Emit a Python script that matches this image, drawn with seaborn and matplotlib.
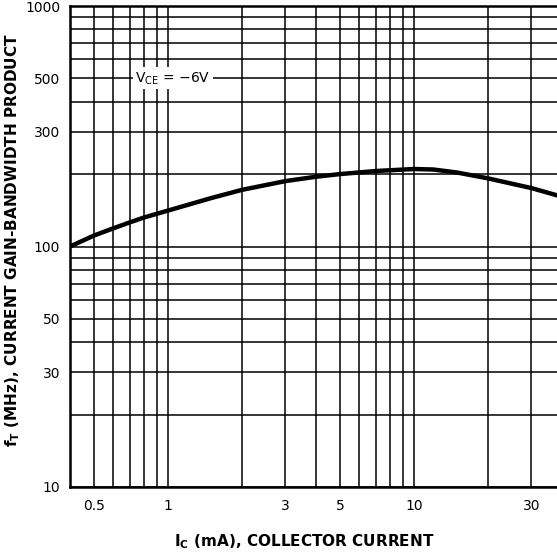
import numpy as np
import matplotlib
matplotlib.use("Agg")
import matplotlib.pyplot as plt
import matplotlib.ticker as mticker
import seaborn as sns

# curve
ic_ma = [0.4, 0.5, 0.6, 0.7, 0.8, 1, 1.5, 2, 3, 4, 5, 7, 10, 12, 15, 20, 30, 40]
ft_mhz = [100, 111, 119, 126, 132, 141, 159, 172, 187, 195, 200, 206, 210, 209, 203, 192, 175, 161]

x_ticks = [0.5, 1, 3, 5, 10, 30]
x_labels = ["0.5", "1", "3", "5", "10", "30"]
y_ticks = [10, 30, 50, 100, 300, 500, 1000]
y_labels = ["10", "30", "50", "100", "300", "500", "1000"]

sns.set_style("white")
plt.rcParams['font.family'] = ['DejaVu Sans']
plt.rcParams['text.color'] = 'black'
plt.rcParams['axes.labelcolor'] = 'black'

fig = plt.figure(figsize=(5.57, 5.57), dpi=100)
ax = fig.add_axes([70 / 557, 1 - 487 / 557, 492 / 557, 481 / 557])
ax.set_xscale('log')
ax.set_yscale('log')

sns.lineplot(x=ic_ma, y=ft_mhz, color='black', linewidth=3.2, ax=ax, zorder=5)

ax.set_xlim(0.4, 40)
ax.set_ylim(10, 1000)

ax.xaxis.set_major_locator(mticker.FixedLocator(x_ticks))
ax.xaxis.set_major_formatter(mticker.FixedFormatter(x_labels))
ax.yaxis.set_major_locator(mticker.FixedLocator(y_ticks))
ax.yaxis.set_major_formatter(mticker.FixedFormatter(y_labels))
ax.xaxis.set_minor_locator(mticker.LogLocator(base=10, subs=np.arange(1, 10)))
ax.yaxis.set_minor_locator(mticker.LogLocator(base=10, subs=np.arange(1, 10)))
ax.xaxis.set_minor_formatter(mticker.NullFormatter())
ax.yaxis.set_minor_formatter(mticker.NullFormatter())
ax.tick_params(which='both', length=0, labelsize=10, colors='black')
ax.tick_params(axis='x', pad=9)
ax.tick_params(axis='y', pad=7)

ax.grid(True, which='both', color='black', linewidth=1.1)
for side in ['left', 'bottom', 'top']:
    ax.spines[side].set_color('black')
    ax.spines[side].set_linewidth(1.8)
ax.spines['right'].set_visible(False)

ax.text(1.05, 500, r'V$_{\mathregular{CE}}$ = −6V', ha='center', va='center', fontsize=10,
        color='black', bbox=dict(facecolor='white', edgecolor='none', pad=2), zorder=6)

ax.set_xlabel(r'I$_{\mathregular{C}}$ (mA), COLLECTOR CURRENT', fontsize=11, fontweight='bold')
ax.xaxis.set_label_coords((304 - 70) / 492, -(532 - 487) / 481)
ax.set_ylabel(r'f$_{\mathregular{T}}$ (MHz), CURRENT GAIN-BANDWIDTH PRODUCT', fontsize=11, fontweight='bold')
ax.yaxis.set_label_coords(-(70 - 22) / 492, (487 - 240) / 481)

fig.savefig('out.png', dpi=100)
